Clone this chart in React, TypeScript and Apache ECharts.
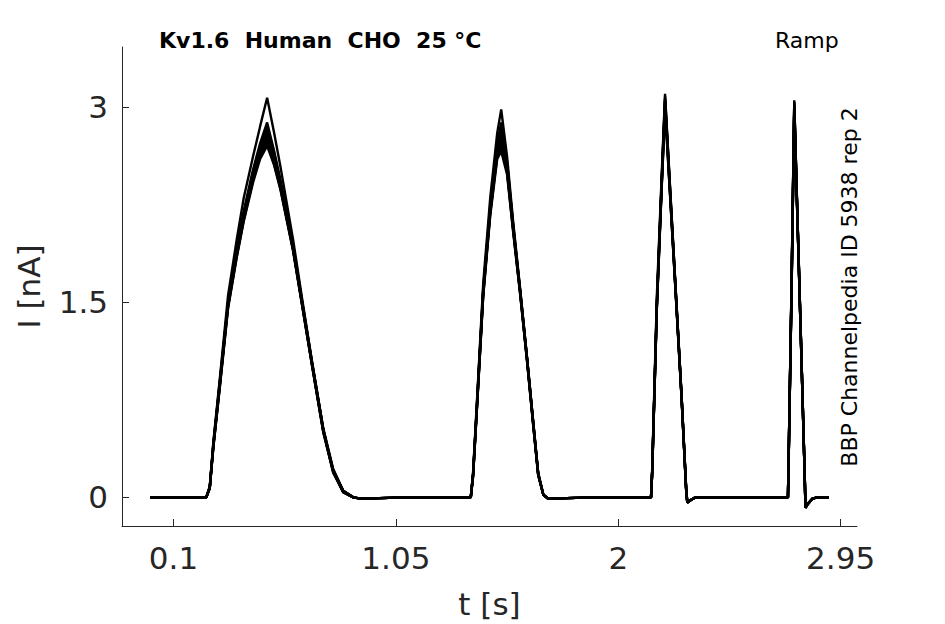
import React, { useEffect, useRef } from "react";
import * as echarts from "echarts";

// time stamps (s) shared by all sweeps
const T = [
  0, 0.1,
  0.24, 0.255, 0.27, 0.3, 0.333, 0.37, 0.4, 0.44, 0.47, 0.5, 0.53, 0.556, 0.611, 0.65, 0.692, 0.74, 0.782, 0.825, 0.868, 0.9, 1.1,
  1.37, 1.38, 1.4, 1.423, 1.453, 1.483, 1.5, 1.525, 1.551, 1.581, 1.61, 1.637, 1.658, 1.68, 1.7, 1.9,
  2.14, 2.145, 2.165, 2.185, 2.2, 2.22, 2.25, 2.27, 2.29, 2.295, 2.31, 2.33, 2.5,
  2.725, 2.728, 2.74, 2.752, 2.765, 2.78, 2.795, 2.8, 2.81, 2.83, 2.85, 2.9,
];

// current (nA) per sweep
const SWEEP_A = [
  0, 0,
  0, 0.08, 0.42, 0.95, 1.55, 1.98, 2.3, 2.62, 2.85, 3.07, 2.8, 2.55, 1.98, 1.52, 1.04, 0.52, 0.2, 0.04, 0, -0.01, 0,
  0, 0.2, 0.86, 1.64, 2.3, 2.8, 2.98, 2.62, 2.12, 1.6, 1.08, 0.57, 0.18, 0.02, -0.01, 0,
  0, 0.22, 1.55, 2.45, 3.1, 2.43, 1.45, 0.8, 0.08, -0.04, -0.02, 0, 0,
  0, 0.3, 1.6, 3.05, 2.2, 1.25, 0.28, -0.08, -0.05, -0.01, 0, 0,
];
const SWEEP_B = [
  0, 0,
  0, 0.07, 0.4, 0.93, 1.5, 1.92, 2.2, 2.52, 2.72, 2.88, 2.66, 2.45, 1.94, 1.5, 1.03, 0.52, 0.21, 0.05, 0, -0.01, 0,
  0, 0.18, 0.84, 1.6, 2.24, 2.72, 2.88, 2.58, 2.1, 1.59, 1.08, 0.57, 0.18, 0.02, -0.01, 0,
  0, 0.2, 1.5, 2.42, 3.08, 2.42, 1.45, 0.8, 0.07, -0.04, -0.02, 0, 0,
  0, 0.3, 1.58, 3.04, 2.2, 1.25, 0.28, -0.08, -0.05, -0.01, 0, 0,
];
const SWEEP_C = [
  0, 0,
  0, 0.08, 0.41, 0.92, 1.49, 1.9, 2.18, 2.5, 2.7, 2.85, 2.64, 2.43, 1.93, 1.5, 1.04, 0.53, 0.22, 0.05, 0, -0.01, 0,
  0, 0.18, 0.83, 1.59, 2.22, 2.7, 2.84, 2.56, 2.09, 1.59, 1.08, 0.58, 0.19, 0.02, -0.01, 0,
  0, 0.19, 1.49, 2.4, 3.06, 2.41, 1.44, 0.79, 0.07, -0.04, -0.02, 0, 0,
  0, 0.29, 1.57, 3.03, 2.19, 1.24, 0.27, -0.08, -0.05, -0.01, 0, 0,
];
const SWEEP_D = [
  0, 0,
  0, 0.08, 0.39, 0.9, 1.48, 1.88, 2.17, 2.49, 2.68, 2.82, 2.62, 2.42, 1.92, 1.49, 1.03, 0.52, 0.21, 0.05, 0, -0.01, 0,
  0, 0.17, 0.82, 1.58, 2.21, 2.68, 2.8, 2.55, 2.08, 1.58, 1.07, 0.57, 0.18, 0.02, -0.01, 0,
  0, 0.2, 1.48, 2.39, 3.05, 2.4, 1.44, 0.8, 0.07, -0.04, -0.02, 0, 0,
  0, 0.3, 1.56, 3.02, 2.19, 1.25, 0.28, -0.07, -0.05, -0.01, 0, 0,
];
const SWEEP_E = [
  0, 0,
  0, 0.07, 0.4, 0.91, 1.49, 1.88, 2.16, 2.47, 2.66, 2.79, 2.6, 2.4, 1.91, 1.48, 1.02, 0.51, 0.2, 0.04, 0, -0.01, 0,
  0, 0.18, 0.82, 1.57, 2.2, 2.66, 2.76, 2.53, 2.07, 1.58, 1.07, 0.56, 0.18, 0.02, -0.01, 0,
  0, 0.19, 1.48, 2.38, 3.04, 2.39, 1.43, 0.79, 0.06, -0.04, -0.02, 0, 0,
  0, 0.29, 1.56, 3.0, 2.18, 1.24, 0.27, -0.08, -0.05, -0.01, 0, 0,
];
const SWEEP_F = [
  0, 0,
  0, 0.08, 0.39, 0.9, 1.47, 1.86, 2.14, 2.46, 2.64, 2.76, 2.58, 2.39, 1.9, 1.48, 1.02, 0.51, 0.2, 0.05, 0, -0.01, 0,
  0, 0.17, 0.81, 1.56, 2.19, 2.64, 2.72, 2.51, 2.06, 1.57, 1.06, 0.56, 0.18, 0.02, -0.01, 0,
  0, 0.2, 1.47, 2.37, 3.02, 2.38, 1.43, 0.79, 0.07, -0.03, -0.02, 0, 0,
  0, 0.3, 1.55, 2.99, 2.18, 1.24, 0.28, -0.07, -0.05, -0.01, 0, 0,
];
const SWEEP_G = [
  0, 0,
  0, 0.07, 0.38, 0.89, 1.46, 1.85, 2.13, 2.44, 2.62, 2.73, 2.56, 2.38, 1.9, 1.47, 1.01, 0.5, 0.2, 0.04, 0, -0.01, 0,
  0, 0.17, 0.8, 1.55, 2.18, 2.62, 2.7, 2.5, 2.05, 1.57, 1.06, 0.55, 0.17, 0.02, -0.01, 0,
  0, 0.19, 1.46, 2.36, 3.0, 2.37, 1.42, 0.78, 0.06, -0.04, -0.02, 0, 0,
  0, 0.29, 1.54, 2.98, 2.17, 1.23, 0.27, -0.08, -0.05, -0.01, 0, 0,
];
const SWEEP_H = [
  0, 0,
  0, 0.08, 0.38, 0.88, 1.45, 1.84, 2.12, 2.42, 2.6, 2.7, 2.55, 2.37, 1.89, 1.47, 1.01, 0.5, 0.19, 0.04, 0, -0.01, 0,
  0, 0.16, 0.8, 1.54, 2.16, 2.6, 2.66, 2.48, 2.04, 1.56, 1.05, 0.55, 0.17, 0.02, -0.01, 0,
  0, 0.19, 1.45, 2.35, 2.98, 2.36, 1.42, 0.78, 0.06, -0.04, -0.02, 0, 0,
  0, 0.29, 1.53, 2.96, 2.17, 1.23, 0.27, -0.07, -0.05, -0.01, 0, 0,
];

const SWEEPS = [SWEEP_A, SWEEP_B, SWEEP_C, SWEEP_D, SWEEP_E, SWEEP_F, SWEEP_G, SWEEP_H];

const X_TICKS = [0.1, 1.05, 2, 2.95];
const Y_TICKS = [0, 1.5, 3];

const TITLE = "Kv1.6  Human  CHO  25 °C";
const PROTOCOL = "Ramp";
const SOURCE = "BBP Channelpedia ID 5938 rep 2";

const FONT = '"DejaVu Sans", "Noto Sans", sans-serif';
const AXIS_COLOR = "#262626";

export default function App() {
  const ref = useRef<HTMLDivElement>(null);

  useEffect(() => {
    if (!ref.current) return;
    const chart = echarts.init(ref.current, undefined, { renderer: "svg" });
    const series = SWEEPS.map((sw, k) => ({
      type: "line",
      name: "sweep" + (k + 1),
      data: T.map((t, i) => [t, sw[i]]),
      showSymbol: false,
      symbol: "none",
      silent: true,
      lineStyle: { color: "#000", width: 2.4 },
      z: 2,
    }));
    chart.setOption({
      animation: false,
      backgroundColor: "#fff",
      grid: { left: 122, right: 88, top: 47, bottom: 98, containLabel: false },
      xAxis: {
        type: "value",
        min: -0.12,
        max: 3.02,
        name: "t [s]",
        nameLocation: "middle",
        nameGap: 62,
        nameTextStyle: { fontSize: 31, color: AXIS_COLOR, fontFamily: FONT },
        axisLine: { show: true, onZero: false, lineStyle: { color: AXIS_COLOR, width: 1 } },
        axisTick: { show: true, inside: true, length: 7, customValues: X_TICKS, lineStyle: { color: AXIS_COLOR } },
        axisLabel: {
          customValues: X_TICKS,
          fontSize: 31,
          color: AXIS_COLOR,
          fontFamily: FONT,
          margin: 16,
          formatter: (v: number) => String(v),
        },
        splitLine: { show: false },
      },
      yAxis: {
        type: "value",
        min: -0.22,
        max: 3.46,
        name: "I [nA]",
        nameLocation: "middle",
        nameRotate: 90,
        nameGap: 78,
        nameTextStyle: { fontSize: 31, color: AXIS_COLOR, fontFamily: FONT },
        axisLine: { show: true, onZero: false, lineStyle: { color: AXIS_COLOR, width: 1 } },
        axisTick: { show: true, inside: true, length: 7, customValues: Y_TICKS, lineStyle: { color: AXIS_COLOR } },
        axisLabel: {
          customValues: Y_TICKS,
          fontSize: 31,
          color: AXIS_COLOR,
          fontFamily: FONT,
          margin: 14,
          formatter: (v: number) => String(v),
        },
        splitLine: { show: false },
      },
      graphic: [
        {
          type: "text",
          x: 159,
          y: 40,
          style: { text: TITLE, font: "bold 22px " + FONT, fill: "#000", textAlign: "left", textVerticalAlign: "middle" },
        },
        {
          type: "text",
          x: 775,
          y: 40,
          style: { text: PROTOCOL, font: "22px " + FONT, fill: "#000", textAlign: "left", textVerticalAlign: "middle" },
        },
        {
          type: "text",
          x: 849,
          y: 287,
          rotation: Math.PI / 2,
          style: { text: SOURCE, font: "22px " + FONT, fill: "#000", textAlign: "center", textVerticalAlign: "middle" },
        },
      ],
      series,
    });
    return () => chart.dispose();
  }, []);

  return (
    <div
      ref={ref}
      style={{ position: "fixed", left: 0, top: 0, width: 945, height: 624, background: "#fff" }}
    />
  );
}
